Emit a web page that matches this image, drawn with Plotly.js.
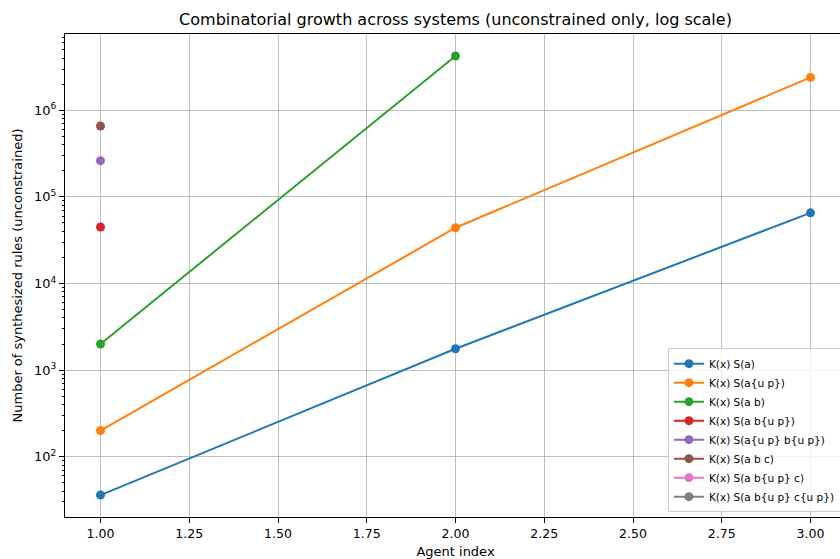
<!DOCTYPE html>
<html>
<head>
<meta charset="utf-8">
<script src="https://cdn.plot.ly/plotly-3.0.1.min.js"></script>
<style>
html,body{margin:0;padding:0;overflow:hidden;background:#fff;}
#chart{width:860px;height:559px;}
</style>
</head>
<body>
<div id="chart"></div>
<script>
// ---- data ----
const seriesNames = [
  "K(x) S(a)",
  "K(x) S(a{u p})",
  "K(x) S(a b)",
  "K(x) S(a b{u p})",
  "K(x) S(a{u p} b{u p})",
  "K(x) S(a b c)",
  "K(x) S(a b{u p} c)",
  "K(x) S(a b{u p} c{u p})"
];
const xSA = [1, 2, 3];
const ySA = [36, 1764, 65536];
const xSAup = [1, 2, 3];
const ySAup = [200, 44100, 2400000];
const xSAB = [1, 2];
const ySAB = [2000, 4250000];
const xSABup = [1];
const ySABup = [45000];
const xSAupBup = [1];
const ySAupBup = [262144];
const xSABC = [1];
const ySABC = [660000];
// no unconstrained values available for these two systems
const xSABupC = [1];
const ySABupC = [null];
const xSABupCup = [1];
const ySABupCup = [null];
const xTicks = [1.00, 1.25, 1.50, 1.75, 2.00, 2.25, 2.50, 2.75, 3.00];
const yTickExps = [2, 3, 4, 5, 6];

const colors = ["#1f77b4","#ff7f0e","#2ca02c","#d62728","#9467bd","#8c564b","#e377c2","#7f7f7f"];
const xs = [xSA, xSAup, xSAB, xSABup, xSAupBup, xSABC, xSABupC, xSABupCup];
const ys = [ySA, ySAup, ySAB, ySABup, ySAupBup, ySABC, ySABupC, ySABupCup];

const traces = seriesNames.map((n, i) => ({
  type: "scatter",
  mode: "lines+markers",
  name: n,
  x: xs[i],
  y: ys[i],
  line: {color: colors[i], width: 2},
  marker: {color: colors[i], size: 9},
  showlegend: true
}));

// axis ranges like matplotlib auto margins (5%)
const allX = xs.flat(), allY = ys.flat().filter(v => v != null).map(v => Math.log10(v));
const xmin = Math.min(...allX), xmax = Math.max(...allX);
const ymin = Math.min(...allY), ymax = Math.max(...allY);
const xpad = (xmax - xmin) * 0.05, ypad = (ymax - ymin) * 0.05;

const minorVals = [];
for (let e = 1; e <= 7; e++) for (let k = 2; k <= 9; k++) minorVals.push(k * Math.pow(10, e));

const font = "DejaVu Sans, sans-serif";
const layout = {
  width: 860,
  height: 559,
  margin: {l: 65, r: 14, t: 34, b: 42, autoexpand: false},
  paper_bgcolor: "#fff",
  plot_bgcolor: "#fff",
  font: {family: font, size: 13, color: "#000"},
  title: {text: "Combinatorial growth across systems (unconstrained only, log scale)",
          font: {family: font, size: 16, color: "#000"}, x: 0.5, xanchor: "center",
          xref: "paper", y: 1 - 19/559, yanchor: "middle"},
  xaxis: {
    range: [xmin - xpad, xmax + xpad],
    tickvals: xTicks,
    ticktext: xTicks.map(v => v.toFixed(2)),
    ticks: "outside", ticklen: 5, tickcolor: "#000", tickwidth: 1,
    showgrid: true, gridcolor: "#b0b0b0", gridwidth: 0.8,
    showline: true, linecolor: "#000", linewidth: 1, mirror: true,
    zeroline: false, automargin: false,
    tickfont: {size: 12.5},
    title: {text: "Agent index", font: {size: 13}, standoff: 6}
  },
  yaxis: {
    type: "log",
    range: [ymin - ypad, ymax + ypad],
    tickvals: yTickExps.map(e => Math.pow(10, e)),
    ticktext: yTickExps.map(e => "10<sup>" + e + "</sup>"),
    ticks: "outside", ticklen: 5, tickcolor: "#000", tickwidth: 1,
    minor: {tickvals: minorVals, ticks: "outside", ticklen: 2.5, tickcolor: "#000", showgrid: false},
    showgrid: true, gridcolor: "#b0b0b0", gridwidth: 0.8,
    showline: true, linecolor: "#000", linewidth: 1, mirror: true,
    zeroline: false, automargin: false,
    tickfont: {size: 13},
    title: {text: "Number of synthesized rules (unconstrained)", font: {size: 13}, standoff: 8}
  },
  legend: {
    x: 0.772, xanchor: "left", y: 0.01, yanchor: "bottom",
    bgcolor: "rgba(255,255,255,0.8)", bordercolor: "#cccccc", borderwidth: 1,
    font: {size: 10.5, family: font},
    tracegroupgap: 0, itemwidth: 30
  },
  showlegend: true
};

Plotly.newPlot("chart", traces, layout, {staticPlot: true, displayModeBar: false});
</script>
</body>
</html>
